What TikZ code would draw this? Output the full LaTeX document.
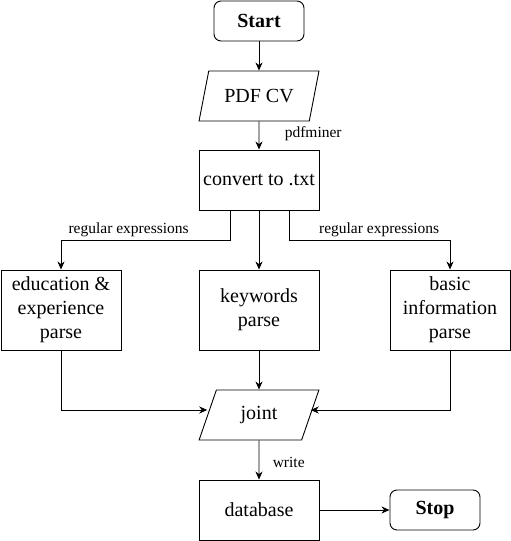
\documentclass[tikz,border=0pt]{standalone}
\usepackage{fontspec}
\setmainfont{Liberation Serif}
\usetikzlibrary{shapes.geometric, arrows.meta}
\begin{document}
\begin{tikzpicture}[
    x=1pt, y=-1pt,
    box/.style={draw, line width=0.9pt, minimum width=120pt, minimum height=60pt,
                font=\fontsize{20}{24}\selectfont, align=center, inner sep=2pt},
    term/.style={draw, line width=0.9pt, rounded corners=7pt, minimum width=90pt,
                 minimum height=40pt, font=\fontsize{20}{24}\selectfont\bfseries},
    io/.style={draw, line width=0.9pt, trapezium, trapezium left angle=70,
               trapezium right angle=110, trapezium stretches=true,
               minimum width=120pt, minimum height=50pt,
               font=\fontsize{20}{24}\selectfont},
    lbl/.style={font=\fontsize{15.5}{18}\selectfont},
    arr/.style={-{Stealth[length=8pt, width=7pt, inset=2.5pt]}, line width=0.9pt}
  ]
  \useasboundingbox (0,0) rectangle (511,541);
  \node[term] (start) at (259,21) {Start};
  \node[io] (pdf) at (259,96) {PDF CV};
  \node[box] (convert) at (259,180) {convert to .txt};
  \node[box, minimum height=80pt] (edu) at (61,310) {education \&\\experience\\parse};
  \node[box, minimum height=80pt] (keys) at (259,310) {keywords\\parse};
  \node[box, minimum height=80pt] (basic) at (450,310) {basic\\information\\parse};
  \node[io] (joint) at (259,415) {joint};
  \node[box] (db) at (259,510) {database};
  \node[term] (stop) at (435,510) {Stop};

  \draw[arr] (start) -- (pdf);
  \draw[arr] (pdf) -- node[lbl, right=22pt, pos=0.45] {pdfminer} (convert);
  \draw[arr] ([xshift=-29pt]convert.south) -- ++(0,30)
    -| node[lbl, above, pos=0.3] {regular expressions} (edu.north);
  \draw[arr] (convert) -- (keys);
  \draw[arr] ([xshift=30pt]convert.south) -- ++(0,30)
    -| node[lbl, above, pos=0.28] {regular expressions} (basic.north);
  \draw[arr] (keys) -- (joint);
  \draw[arr] (edu.south) |- ([yshift=5pt]joint.west);
  \draw[arr] (basic.south) |- ([yshift=5pt]joint.east);
  \draw[arr] (joint) -- node[lbl, right=10pt, pos=0.55] {write} (db);
  \draw[arr] (db) -- (stop);
\end{tikzpicture}
\end{document}
